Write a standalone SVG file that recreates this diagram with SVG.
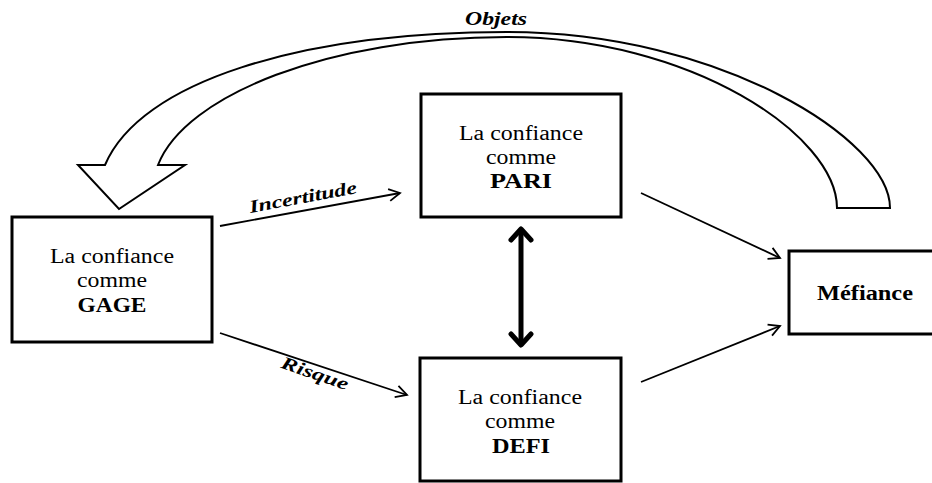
<svg xmlns="http://www.w3.org/2000/svg" width="932" height="483" viewBox="0 0 932 483">
<style>
.box{fill:#fff;stroke:#000;stroke-width:3}
.t{font-family:"Liberation Serif","Times New Roman",serif;font-size:20px;fill:#000;text-anchor:middle}
.b{font-weight:bold}
.lbl{font-family:"Liberation Serif","Times New Roman",serif;font-size:18px;font-weight:bold;font-style:italic;fill:#000;text-anchor:middle}
.conn{stroke:#000;stroke-width:1.8;fill:none}
</style>
<defs>
<marker id="open" markerUnits="userSpaceOnUse" markerWidth="14" markerHeight="14" viewBox="0 0 14 14" refX="12" refY="7" orient="auto">
<path d="M1,1 L12,7 L1,13" fill="none" stroke="#000" stroke-width="1.8"/>
</marker>
</defs>
<g id="connectors">
<path id="big-arrow" d="M890,208 C890,140 720,32 507,32 C300,32 140,82 105,165 L78,165 L119,209 L185,165 L158,165 C185,95 330,37 507,37 C690,37 837,135 837,208 Z" fill="#fff" stroke="#000" stroke-width="2" stroke-linejoin="miter"/>
<text class="lbl" x="496" y="25" textLength="62" lengthAdjust="spacingAndGlyphs">Objets</text>
<line class="conn" x1="220" y1="226" x2="400" y2="193" marker-end="url(#open)"/>
<text class="lbl" transform="translate(304,203) rotate(-10.5)" x="0" y="0" textLength="109" lengthAdjust="spacingAndGlyphs">Incertitude</text>
<line class="conn" x1="220" y1="333" x2="407" y2="395" marker-end="url(#open)"/>
<text class="lbl" transform="translate(313,379) rotate(19)" x="0" y="0" textLength="70" lengthAdjust="spacingAndGlyphs">Risque</text>
<line class="conn" x1="641" y1="193" x2="780" y2="258" marker-end="url(#open)"/>
<line class="conn" x1="641" y1="382" x2="780" y2="326" marker-end="url(#open)"/>
<g id="double-arrow" stroke="#000" stroke-width="5" fill="none" stroke-linecap="round" stroke-linejoin="round">
<line x1="521" y1="230" x2="521" y2="344"/>
<path d="M511,240 L521,229 L531,240"/>
<path d="M511,334 L521,345 L531,334"/>
</g>
</g>
<g id="gage">
<rect class="box" x="12" y="217" width="200" height="125"/>
<text class="t" x="112" y="263" textLength="124" lengthAdjust="spacingAndGlyphs">La confiance</text>
<text class="t" x="112" y="287" textLength="70" lengthAdjust="spacingAndGlyphs">comme</text>
<text class="t b" x="112" y="312" textLength="69" lengthAdjust="spacingAndGlyphs">GAGE</text>
</g>
<g id="pari">
<rect class="box" x="421" y="94" width="200" height="123"/>
<text class="t" x="521" y="140" textLength="124" lengthAdjust="spacingAndGlyphs">La confiance</text>
<text class="t" x="521" y="164" textLength="70" lengthAdjust="spacingAndGlyphs">comme</text>
<text class="t b" x="521" y="188" textLength="62" lengthAdjust="spacingAndGlyphs">PARI</text>
</g>
<g id="defi">
<rect class="box" x="420" y="358" width="201" height="123"/>
<text class="t" x="520" y="404" textLength="124" lengthAdjust="spacingAndGlyphs">La confiance</text>
<text class="t" x="520" y="428" textLength="70" lengthAdjust="spacingAndGlyphs">comme</text>
<text class="t b" x="521" y="453" textLength="58" lengthAdjust="spacingAndGlyphs">DEFI</text>
</g>
<g id="mefiance">
<rect class="box" x="789" y="251" width="150" height="83"/>
<text class="t b" x="865" y="300" textLength="96" lengthAdjust="spacingAndGlyphs">Méfiance</text>
</g>
</svg>
